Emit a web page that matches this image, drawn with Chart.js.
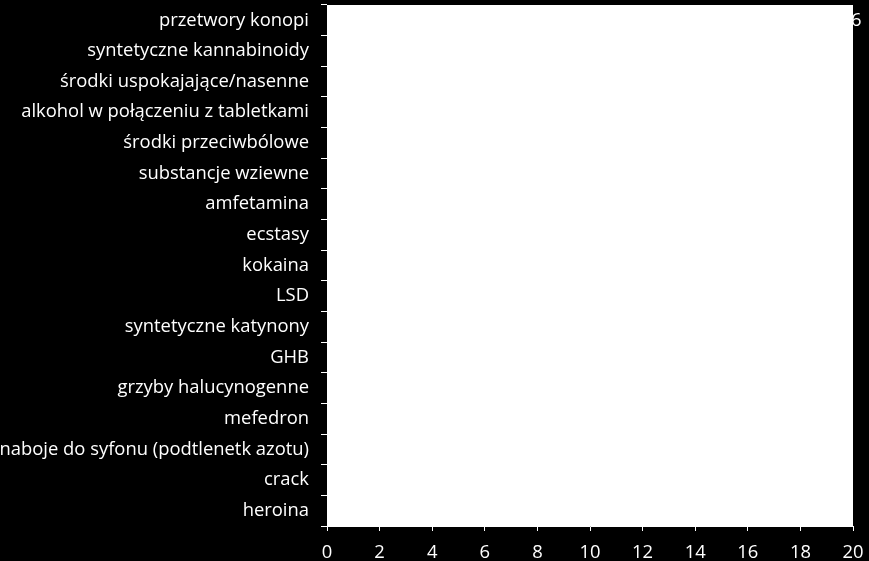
<!DOCTYPE html>
<html>
<head>
<meta charset="utf-8">
<script src="https://cdn.jsdelivr.net/npm/chart.js@4.4.0/dist/chart.umd.min.js"></script>
<style>
  html, body { margin: 0; padding: 0; background: #000; }
  #wrap { width: 869px; height: 561px; }
</style>
</head>
<body>
<div id="wrap"><canvas id="drugs-chart"></canvas></div>
<script>
// Categories, top to bottom
const categories = [
    'przetwory konopi',
    'syntetyczne kannabinoidy',
    'środki uspokajające/nasenne',
    'alkohol w połączeniu z tabletkami',
    'środki przeciwbólowe',
    'substancje wziewne',
    'amfetamina',
    'ecstasy',
    'kokaina',
    'LSD',
    'syntetyczne katynony',
    'GHB',
    'grzyby halucynogenne',
    'mefedron',
    'naboje do syfonu (podtlenetk azotu)',
    'crack',
    'heroina'
];

// Values (%) - bars are white on white, only the first label peeks out
const values = [18.6, 5.4, 4.9, 4.2, 3.8, 3.3, 2.9, 2.6, 2.3, 2.0, 1.8, 1.6, 1.4, 1.2, 1.0, 0.8, 0.6];

const xTicks = [0, 2, 4, 6, 8, 10, 12, 14, 16, 18, 20];

const FONT = '"Open Sans", "DejaVu Sans", sans-serif';
const FONT_SIZE = 18.4;

/**
 * White plot area
 */
const plotBackground = {
    id: 'plotBackground',
    beforeDraw(chart) {
        const a = chart.chartArea;
        const ctx = chart.ctx;
        ctx.save();
        ctx.fillStyle = '#ffffff';
        ctx.fillRect(a.left, a.top, a.right - a.left, a.bottom - a.top);
        ctx.restore();
    }
};

/**
 * Value labels at the end of each bar
 */
const valueLabels = {
    id: 'valueLabels',
    afterDatasetsDraw(chart) {
        const ctx = chart.ctx;
        const meta = chart.getDatasetMeta(0);
        ctx.save();
        ctx.fillStyle = '#ffffff';
        ctx.font = FONT_SIZE + 'px ' + FONT;
        ctx.textAlign = 'left';
        ctx.textBaseline = 'middle';
        meta.data.forEach((bar, i) => {
            const txt = values[i].toFixed(1).replace('.', ',');
            ctx.fillText(txt, bar.x + 9, bar.y);
        });
        ctx.restore();
    }
};

new Chart(document.getElementById('drugs-chart'), {
    type: 'bar',
    data: {
        labels: categories,
        datasets: [{
            data: values,
            backgroundColor: '#ffffff',
            borderWidth: 0,
            barPercentage: 0.6,
            categoryPercentage: 1
        }]
    },
    options: {
        indexAxis: 'y',
        responsive: true,
        maintainAspectRatio: false,
        animation: false,
        layout: { padding: { top: 5, right: 16, left: 0, bottom: 0 } },
        plugins: {
            legend: { display: false },
            tooltip: { enabled: false }
        },
        scales: {
            x: {
                min: 0,
                max: 20,
                afterBuildTicks(scale) {
                    scale.ticks = xTicks.map(v => ({ value: v }));
                },
                afterFit(scale) {
                    scale.height = 35;
                    scale.paddingLeft = 0;
                    scale.paddingRight = 0;
                },
                border: { color: '#ffffff', width: 1 },
                grid: { drawOnChartArea: false, color: '#ffffff', tickLength: 5 },
                ticks: { color: '#ffffff', font: { family: FONT, size: FONT_SIZE }, padding: 11, maxRotation: 0 }
            },
            y: {
                afterFit(scale) {
                    scale.width = 327;
                    scale.paddingTop = 0;
                    scale.paddingBottom = 0;
                },
                border: { color: '#ffffff', width: 1 },
                grid: { drawOnChartArea: false, color: '#ffffff', tickLength: 6, offset: true },
                ticks: { color: '#ffffff', font: { family: FONT, size: FONT_SIZE }, padding: 12, autoSkip: false }
            }
        }
    },
    plugins: [plotBackground, valueLabels]
});
</script>
</body>
</html>
